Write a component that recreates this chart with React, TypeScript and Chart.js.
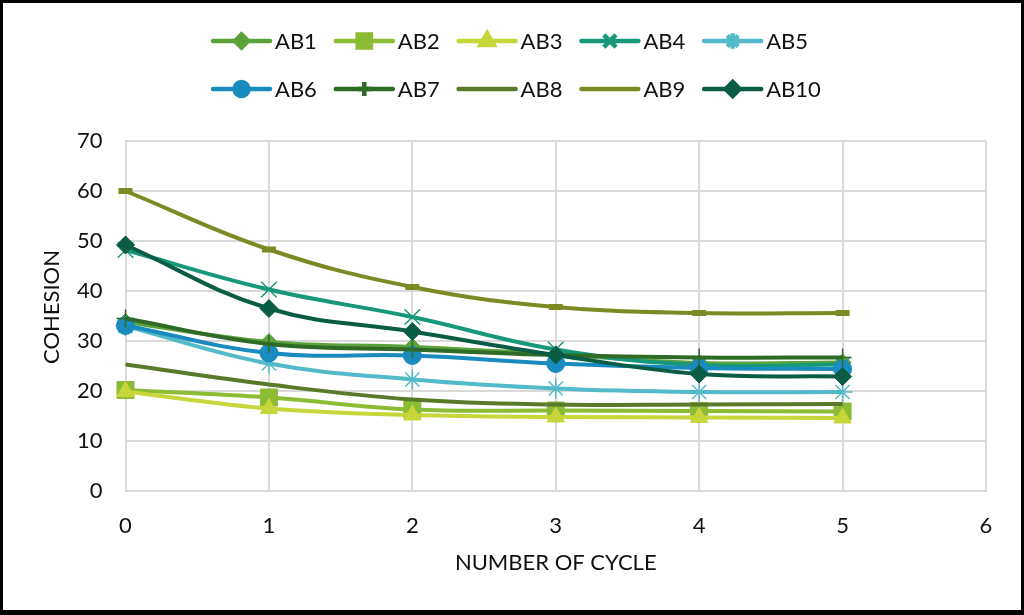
import React, { useEffect, useRef } from "react";
import { Chart, registerables } from "chart.js";
import { drawPoint } from "chart.js/helpers";

Chart.register(...registerables);

// Cohesion per cycle for each mix
const cycles = [0, 1, 2, 3, 4, 5];
const seriesNames = ["AB1", "AB2", "AB3", "AB4", "AB5", "AB6", "AB7", "AB8", "AB9", "AB10"];
const AB1 = [33.8, 29.8, 28.8, 27.3, 25.6, 25.7];
const AB2 = [20.2, 18.7, 16.3, 16.1, 16.0, 15.9];
const AB3 = [19.9, 16.5, 15.2, 14.8, 14.7, 14.6];
const AB4 = [48.2, 40.3, 34.8, 28.3, 25.2, 25.3];
const AB5 = [33.0, 25.5, 22.3, 20.5, 19.8, 19.8];
const AB6 = [33.1, 27.6, 27.1, 25.5, 24.6, 24.4];
const AB7 = [34.5, 29.4, 28.3, 27.2, 26.7, 26.7];
const AB8 = [25.3, 21.3, 18.3, 17.3, 17.3, 17.4];
const AB9 = [60.0, 48.3, 40.8, 36.8, 35.6, 35.6];
const AB10 = [49.2, 36.5, 31.9, 27.2, 23.4, 22.9];
const seriesValues = [AB1, AB2, AB3, AB4, AB5, AB6, AB7, AB8, AB9, AB10];

const xTicks = [0, 1, 2, 3, 4, 5, 6];
const yTicks = [0, 10, 20, 30, 40, 50, 60, 70];
const xTitle = "NUMBER OF CYCLE";
const yTitle = "COHESION";

const colors = [
  "#5ba23b",
  "#8cbb34",
  "#c6d63b",
  "#17987a",
  "#52bac9",
  "#1a8bbf",
  "#2f6a27",
  "#5a7a2b",
  "#7d8a24",
  "#0b5c44",
];

type Marker = { style: string | false; radius: number; border: number; legend: boolean };
const markers: Marker[] = [
  { style: "rectRot", radius: 8.5, border: 1, legend: true },
  { style: "rect", radius: 12, border: 1, legend: true },
  { style: "triangle", radius: 10, border: 1, legend: true },
  { style: "crossRot", radius: 11, border: 1.5, legend: true },
  { style: "star", radius: 10, border: 1.5, legend: true },
  { style: "circle", radius: 9, border: 1, legend: true },
  { style: "cross", radius: 9, border: 1.5, legend: true },
  { style: false, radius: 0, border: 0, legend: false },
  { style: "line", radius: 7, border: 6, legend: false },
  { style: "rectRot", radius: 9, border: 1, legend: true },
];

const FONT = "Lato, 'Open Sans', sans-serif";
const TEXT = "#111111";
const GRID = "#d9d9d9";

const overlayPlugin = {
  id: "overlay",
  beforeDraw(chart: Chart) {
    const ctx = chart.ctx;
    ctx.save();
    ctx.fillStyle = "#ffffff";
    ctx.fillRect(0, 0, chart.width, chart.height);
    ctx.restore();
  },
  afterDraw(chart: Chart) {
    const ctx = chart.ctx;
    const area = chart.chartArea;
    ctx.save();

    // legend: two rows of five
    ctx.font = `22px ${FONT}`;
    ctx.textBaseline = "middle";
    ctx.textAlign = "left";
    const startX = 213;
    const stepX = 122.8;
    const rowY = [41, 89];
    const lineLen = 57;
    seriesNames.forEach((name, i) => {
      const col = i % 5;
      const row = Math.floor(i / 5);
      const x0 = startX + col * stepX;
      const y = rowY[row];
      ctx.strokeStyle = colors[i];
      ctx.fillStyle = colors[i];
      ctx.lineWidth = 4.5;
      ctx.lineCap = "round";
      ctx.beginPath();
      ctx.moveTo(x0, y);
      ctx.lineTo(x0 + lineLen, y);
      ctx.stroke();
      const m = markers[i];
      if (m.legend && m.style) {
        ctx.lineCap = "butt";
        drawPoint(
          ctx,
          { pointStyle: m.style as any, rotation: 0, radius: m.radius * 0.78, borderWidth: m.border },
          x0 + lineLen / 2,
          y
        );
      }
      ctx.fillStyle = TEXT;
      ctx.fillText(name, x0 + lineLen + 5, y + 1);
    });

    // axis titles
    ctx.fillStyle = TEXT;
    ctx.font = `22px ${FONT}`;
    ctx.textAlign = "center";
    ctx.textBaseline = "middle";
    ctx.fillText(xTitle, (area.left + area.right) / 2, 563);
    ctx.translate(52, 307);
    ctx.rotate(-Math.PI / 2);
    ctx.fillText(yTitle, 0, 0);
    ctx.restore();

    // outer frame
    ctx.save();
    ctx.fillStyle = "#000000";
    ctx.fillRect(0, 0, chart.width, 3);
    ctx.fillRect(0, 0, 3, chart.height);
    ctx.fillRect(chart.width - 3, 0, 3, chart.height);
    ctx.fillRect(0, chart.height - 5, chart.width, 5);
    ctx.restore();
  },
};

export default function App() {
  const canvasRef = useRef<HTMLCanvasElement | null>(null);

  useEffect(() => {
    const canvas = canvasRef.current;
    if (!canvas) return;
    const datasets = seriesNames.map((name, i) => {
      const m = markers[i];
      return {
        label: name,
        data: seriesValues[i].map((v, k) => ({ x: cycles[k], y: v })),
        borderColor: colors[i],
        backgroundColor: colors[i],
        borderWidth: 4,
        tension: 0.4,
        pointStyle: m.style as any,
        pointRadius: m.style ? m.radius : 0,
        pointBorderWidth: m.border,
        pointBackgroundColor: colors[i],
        pointBorderColor: colors[i],
        order: seriesNames.length - i,
        clip: false as any,
      };
    });

    const chart = new Chart(canvas, {
      type: "line",
      data: { datasets },
      options: {
        responsive: false,
        animation: false,
        devicePixelRatio: 1,
        layout: { padding: { top: 141, right: 38, bottom: 0, left: 0 } },
        plugins: {
          legend: { display: false },
          tooltip: { enabled: false },
        },
        scales: {
          x: {
            type: "linear",
            min: 0,
            max: 6,
            afterBuildTicks(scale: any) {
              scale.ticks = xTicks.map((v) => ({ value: v }));
            },
            afterFit(scale: any) {
              scale.height = 124;
            },
            grid: { color: GRID, lineWidth: 2, drawTicks: false },
            border: { color: GRID, width: 2 },
            ticks: {
              color: TEXT,
              padding: 22,
              font: { family: FONT, size: 22 },
              maxRotation: 0,
            },
          },
          y: {
            type: "linear",
            min: 0,
            max: 70,
            afterBuildTicks(scale: any) {
              scale.ticks = yTicks.map((v) => ({ value: v }));
            },
            afterFit(scale: any) {
              scale.width = 125.5;
            },
            grid: { color: GRID, lineWidth: 2, drawTicks: false },
            border: { color: GRID, width: 2 },
            ticks: {
              color: TEXT,
              padding: 23,
              font: { family: FONT, size: 22 },
            },
          },
        },
      },
      plugins: [overlayPlugin],
    });
    return () => chart.destroy();
  }, []);

  return (
    <div style={{ position: "absolute", left: 0, top: 0, width: 1024, height: 615, background: "#fff" }}>
      <canvas ref={canvasRef} width={1024} height={615} style={{ display: "block" }} />
    </div>
  );
}
